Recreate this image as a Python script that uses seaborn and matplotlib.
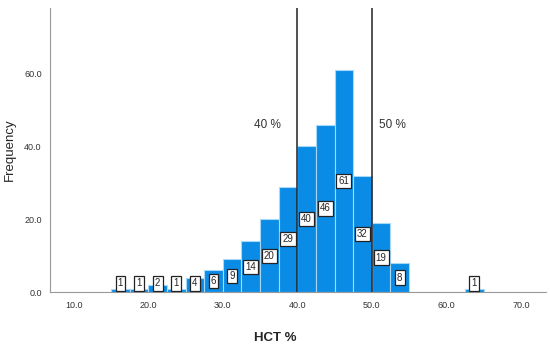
import numpy as np
import pandas as pd
import matplotlib
matplotlib.use('Agg')
import matplotlib.pyplot as plt
import seaborn as sns

sns.set_style('white')
plt.rcParams['font.family'] = ['Liberation Sans', 'DejaVu Sans']

# HCT histogram, bin width 2.5
bin_left = [15.0, 17.5, 20.0, 22.5, 25.0, 27.5, 30.0, 32.5, 35.0, 37.5,
            40.0, 42.5, 45.0, 47.5, 50.0, 52.5, 62.5]
counts = [1, 1, 2, 1, 4, 6, 9, 14, 20, 29, 40, 46, 61, 32, 19, 8, 1]
bin_width = 2.5
ref_lines = [40, 50]
ref_labels = ['40 %', '50 %']
xticks = [10, 20, 30, 40, 50, 60, 70]
yticks = [0, 20, 40, 60]

df = pd.DataFrame({'center': np.array(bin_left) + bin_width / 2, 'n': counts})

fig = plt.figure(figsize=(5.5, 3.47), dpi=100)
ax = fig.add_axes([0.091, 0.158, 0.902, 0.819])

sns.histplot(data=df, x='center', weights='n', binwidth=bin_width, binrange=(15, 65),
             ax=ax, color='#0a8ce6', alpha=1, edgecolor='#a8d8f8', linewidth=0.8)

for c, n in zip(df['center'], df['n']):
    y = max(n / 2, 2.4)
    ax.text(c, y, str(n), ha='center', va='center', fontsize=7,
            bbox=dict(boxstyle='square,pad=0.22', fc='white', ec='#222222', lw=0.9))

for xv in ref_lines:
    ax.axvline(xv, color='#222222', lw=1.1)
ax.text(36.0, 45.8, ref_labels[0], ha='center', va='center', fontsize=8.5, color='#333333')
ax.text(52.8, 45.8, ref_labels[1], ha='center', va='center', fontsize=8.5, color='#333333')

ax.set_xlim(6.8, 73.4)
ax.set_ylim(0, 78)
ax.set_xticks(xticks)
ax.set_xticklabels([f'{t:.1f}' for t in xticks], fontsize=6.5, color='#333333')
ax.set_yticks(yticks)
ax.set_yticklabels([f'{t:.1f}' for t in yticks], fontsize=6.5, color='#333333')
ax.tick_params(length=0, pad=6)
ax.set_xlabel('HCT %', fontsize=9.5, fontweight='bold', va='center')
ax.xaxis.set_label_coords(0.454, -0.162)
ax.set_ylabel('Frequency', fontsize=9.5, va='center')
ax.yaxis.set_label_coords(-0.081, 0.5)

for s in ['top', 'right']:
    ax.spines[s].set_visible(False)
for s in ['left', 'bottom']:
    ax.spines[s].set_color('#999999')
    ax.spines[s].set_linewidth(0.8)

fig.savefig('out.png', dpi=100)
